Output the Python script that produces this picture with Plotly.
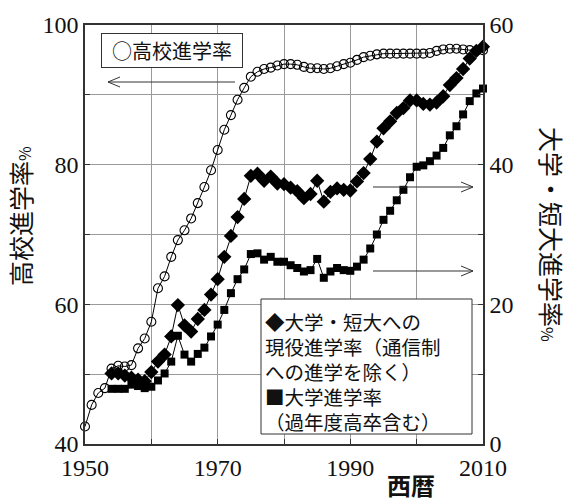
import plotly.graph_objects as go

# ---------------- data ----------------
years_hs = list(range(1950, 2011))
hs_rate = [42.5, 45.6, 47.3, 48.0, 50.8, 51.2, 51.1, 51.3, 53.7, 55.1,   # 1950-1959
           57.5, 62.3, 64.0, 66.8, 69.2, 70.6, 72.3, 74.5, 76.8, 79.2,   # 1960-1969
           82.1, 85.0, 87.1, 89.3, 91.0, 92.6, 93.3, 93.7, 93.9, 94.2,   # 1970-1979
           94.4, 94.4, 94.3, 94.0, 93.8, 93.8, 93.7, 93.8, 94.1, 94.4,   # 1980-1989
           94.6, 95.0, 95.4, 95.6, 95.8, 95.9, 95.9, 95.9, 95.9, 95.9,   # 1990-1999
           95.9, 95.9, 96.0, 96.3, 96.5, 96.6, 96.6, 96.5, 96.4, 96.3,   # 2000-2009
           96.4]                                                         # 2010

years_univ = list(range(1954, 2011))
univ_junior_rate = [10.1, 10.1, 9.8, 9.5, 9.2, 9.0,                          # 1954-1959
                    10.3, 11.8, 12.8, 15.4, 19.9, 17.0, 16.1, 17.9, 19.2, 21.4,  # 1960-1969
                    23.6, 26.8, 29.8, 32.5, 35.1, 38.4, 38.7, 37.7, 38.3, 37.3,  # 1970-1979
                    37.2, 36.7, 36.2, 35.2, 35.8, 37.7, 34.7, 36.1, 36.6, 36.4,  # 1980-1989
                    36.3, 37.6, 38.8, 40.8, 43.3, 45.2, 46.2, 47.4, 48.1, 49.2,  # 1990-1999
                    49.2, 48.7, 48.6, 48.9, 49.8, 51.4, 52.4, 53.7, 55.2, 56.3,  # 2000-2009
                    56.9]                                                        # 2010
univ_rate = [7.9, 7.9, 7.9, 8.5, 8.3, 8.0,                               # 1954-1959
             8.2, 9.1, 10.1, 11.8, 15.5, 12.8, 11.8, 12.9, 13.8, 15.4,   # 1960-1969
             17.1, 19.2, 21.6, 23.6, 25.0, 27.2, 27.3, 26.4, 26.8, 26.1,  # 1970-1979
             26.1, 25.6, 25.2, 24.7, 24.9, 26.5, 23.8, 24.7, 25.2, 24.9,  # 1980-1989
             24.8, 25.4, 26.4, 28.0, 30.0, 32.1, 33.4, 34.9, 36.4, 38.2,  # 1990-1999
             39.7, 39.9, 40.5, 41.3, 42.4, 44.2, 45.5, 47.2, 49.1, 50.2,  # 2000-2009
             50.9]                                                        # 2010

x_ticks = [1950, 1970, 1990, 2010]
x_minor = [1960, 1980, 2000]
y_left_ticks = [40, 60, 80, 100]
y_left_minor = [50, 70, 90]
y_right_ticks = [0, 20, 40, 60]
y_right_minor = [10, 30, 50]

legend_lines = ["◆大学・短大への", "現役進学率（通信制", "への進学を除く）",
                "■大学進学率", "（過年度高卒含む）"]

# ---------------- layout helpers ----------------
W, H = 569, 501
L, R, T, B = 85, 86, 25, 57
PW = W - L - R
PH = H - T - B


def px(x):
    return (x - L) / PW


def py(y):
    return (H - B - y) / PH


SERIF = "Liberation Serif, Times New Roman, serif"
CJK = "Noto Sans CJK JP, sans-serif"
GRID = "#9a9a9a"

fig = go.Figure()
fig.add_trace(go.Scatter(
    x=years_hs, y=hs_rate, yaxis="y", mode="lines+markers",
    line=dict(color="black", width=1),
    marker=dict(symbol="circle-open", size=9, color="black", line=dict(width=1.1)),
    cliponaxis=False, showlegend=False))
fig.add_trace(go.Scatter(
    x=years_univ, y=univ_junior_rate, yaxis="y2", mode="lines+markers",
    line=dict(color="black", width=1),
    marker=dict(symbol="diamond", size=11, color="black"),
    cliponaxis=False, showlegend=False))
fig.add_trace(go.Scatter(
    x=years_univ, y=univ_rate, yaxis="y2", mode="lines+markers",
    line=dict(color="black", width=1),
    marker=dict(symbol="square", size=8, color="black"),
    cliponaxis=False, showlegend=False))

axis_common = dict(
    showline=True, linecolor="#333", linewidth=1.5,
    ticks="inside", ticklen=5, tickcolor="#333",
    tickfont=dict(family=SERIF, size=24, color="#111"),
    zeroline=False, fixedrange=True,
)

fig.update_layout(
    width=W, height=H, autosize=False,
    margin=dict(l=L, r=R, t=T, b=B, pad=0),
    paper_bgcolor="white", plot_bgcolor="white",
    xaxis=dict(range=[1950, 2010], tickmode="array", tickvals=x_ticks,
               showgrid=True, gridcolor=GRID, gridwidth=1, mirror=True,
               ticklabelstandoff=1,
               minor=dict(tickmode="array", tickvals=x_minor, showgrid=True,
                          gridcolor=GRID, gridwidth=1, ticks="inside", ticklen=5,
                          tickcolor="#333"),
               **axis_common),
    yaxis=dict(range=[40, 100], tickmode="array", tickvals=y_left_ticks,
               showgrid=True, gridcolor=GRID, gridwidth=1, mirror=True,
               minor=dict(tickmode="array", tickvals=y_left_minor, showgrid=True,
                          gridcolor=GRID, gridwidth=1, ticks="inside", ticklen=5,
                          tickcolor="#333"),
               **axis_common),
    yaxis2=dict(range=[0, 60], overlaying="y", side="right", tickmode="array",
                tickvals=y_right_ticks, showgrid=False,
                minor=dict(tickmode="array", tickvals=y_right_minor, ticks="inside",
                           ticklen=5, tickcolor="#333"),
                **axis_common),
)

annotations = [
    # axis titles
    dict(text="高校進学率<span style='font-size:16px'>%</span>", x=px(20), y=py(216),
         textangle=-90, borderpad=0, font=dict(family=CJK, size=25, color="#111")),
    dict(text="大学・短大進学率<span style='font-size:16px'>%</span>", x=px(552), y=py(234),
         textangle=90, borderpad=0, font=dict(family=CJK, size=25, color="#111")),
    dict(text="<b>西暦</b>", x=px(411), y=py(485), borderpad=0,
         font=dict(family=CJK, size=24, color="#111")),
    # legend box 1
    dict(text="○高校進学率", x=px(101), y=py(33), xanchor="left", yanchor="top",
         width=136, height=29, align="center", valign="middle",
         bordercolor="#333", borderwidth=1, borderpad=2, bgcolor="white",
         font=dict(family=CJK, size=20, color="#111")),
]
# legend box 2: one text per line, spaced like the reference
for i, line in enumerate(legend_lines):
    annotations.append(dict(text=line, x=px(264), y=py(321 + 25 * i),
                            xanchor="left", yanchor="middle", borderpad=0,
                            font=dict(family=CJK, size=19.5, color="#111")))
for a in annotations:
    a.setdefault("xref", "paper")
    a.setdefault("yref", "paper")
    a.setdefault("xanchor", "center")
    a.setdefault("yanchor", "middle")
    a.setdefault("showarrow", False)
fig.update_layout(annotations=annotations)


def arrow(x0, x1, y, head=12, half=5):
    d = head if x1 > x0 else -head
    path = (f"M {px(x0)},{py(y)} L {px(x1)},{py(y)} "
            f"M {px(x1 - d)},{py(y - half)} L {px(x1)},{py(y)} L {px(x1 - d)},{py(y + half)}")
    return dict(type="path", xref="paper", yref="paper", path=path,
                line=dict(color="#333", width=1))


fig.update_layout(shapes=[
    dict(type="rect", xref="paper", yref="paper", layer="above",
         x0=px(261), x1=px(472), y0=py(434), y1=py(299),
         fillcolor="white", line=dict(color="#333", width=1)),
    arrow(235, 108, 82),
    arrow(373, 473, 187),
    arrow(373, 473, 271),
])

fig.write_html("out.html", config={"displayModeBar": False},
               post_script="document.body.style.margin='0';document.body.style.overflow='hidden';")
